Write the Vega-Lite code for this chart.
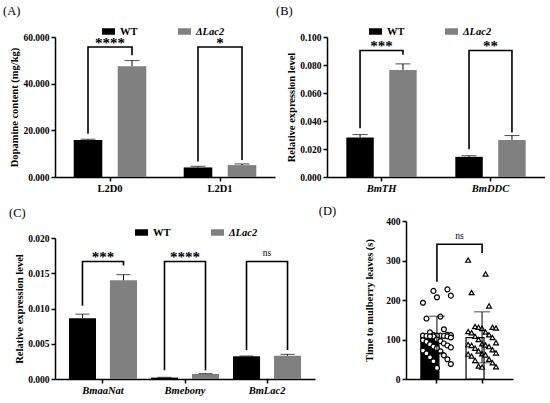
{
  "$schema": "https://vega.github.io/schema/vega-lite/v6.json",
  "background": "white",
  "padding": {"left": 3, "top": 4, "right": 0, "bottom": 0},
  "datasets": {
    "bars": [
      {"panel": "A", "group": "L2D0", "geno": "WT", "mean": 15.9, "upper": 16.2},
      {"panel": "A", "group": "L2D0", "geno": "ΔLac2", "mean": 47.5, "upper": 49.9},
      {"panel": "A", "group": "L2D1", "geno": "WT", "mean": 4.1, "upper": 4.6},
      {"panel": "A", "group": "L2D1", "geno": "ΔLac2", "mean": 5.1, "upper": 5.6},
      {"panel": "B", "group": "BmTH", "geno": "WT", "mean": 0.0282, "upper": 0.0303},
      {"panel": "B", "group": "BmTH", "geno": "ΔLac2", "mean": 0.0765, "upper": 0.0808},
      {"panel": "B", "group": "BmDDC", "geno": "WT", "mean": 0.0144, "upper": 0.0152},
      {"panel": "B", "group": "BmDDC", "geno": "ΔLac2", "mean": 0.0265, "upper": 0.0296},
      {"panel": "C", "group": "BmaaNat", "geno": "WT", "mean": 0.00862, "upper": 0.0092},
      {"panel": "C", "group": "BmaaNat", "geno": "ΔLac2", "mean": 0.014, "upper": 0.0148},
      {"panel": "C", "group": "Bmebony", "geno": "WT", "mean": 0.0002, "upper": 0.00024},
      {"panel": "C", "group": "Bmebony", "geno": "ΔLac2", "mean": 0.0007, "upper": 0.00076},
      {"panel": "C", "group": "BmLac2", "geno": "WT", "mean": 0.00322, "upper": 0.00326},
      {"panel": "C", "group": "BmLac2", "geno": "ΔLac2", "mean": 0.0033, "upper": 0.0035}
    ],
    "dsum": [
      {"geno": "WT", "mean": 113, "lo": 67, "hi": 159},
      {"geno": "ΔLac2", "mean": 105, "lo": 41, "hi": 170}
    ],
    "brackets": [
      {"panel": "A", "group": "L2D0", "geno": "WT", "y": 18.5, "ord": 1},
      {"panel": "A", "group": "L2D0", "geno": "WT", "y": 55.7, "ord": 2},
      {"panel": "A", "group": "L2D0", "geno": "ΔLac2", "y": 55.7, "ord": 3},
      {"panel": "A", "group": "L2D0", "geno": "ΔLac2", "y": 52.2, "ord": 4},
      {"panel": "A", "group": "L2D1", "geno": "WT", "y": 6.6, "ord": 1},
      {"panel": "A", "group": "L2D1", "geno": "WT", "y": 55.7, "ord": 2},
      {"panel": "A", "group": "L2D1", "geno": "ΔLac2", "y": 55.7, "ord": 3},
      {"panel": "A", "group": "L2D1", "geno": "ΔLac2", "y": 7.3, "ord": 4},
      {"panel": "B", "group": "BmTH", "geno": "WT", "y": 0.0349, "ord": 1},
      {"panel": "B", "group": "BmTH", "geno": "WT", "y": 0.0904, "ord": 2},
      {"panel": "B", "group": "BmTH", "geno": "ΔLac2", "y": 0.0904, "ord": 3},
      {"panel": "B", "group": "BmTH", "geno": "ΔLac2", "y": 0.0873, "ord": 4},
      {"panel": "B", "group": "BmDDC", "geno": "WT", "y": 0.0199, "ord": 1},
      {"panel": "B", "group": "BmDDC", "geno": "WT", "y": 0.0904, "ord": 2},
      {"panel": "B", "group": "BmDDC", "geno": "ΔLac2", "y": 0.0904, "ord": 3},
      {"panel": "B", "group": "BmDDC", "geno": "ΔLac2", "y": 0.0318, "ord": 4},
      {"panel": "C", "group": "BmaaNat", "geno": "WT", "y": 0.0104, "ord": 1},
      {"panel": "C", "group": "BmaaNat", "geno": "WT", "y": 0.01667, "ord": 2},
      {"panel": "C", "group": "BmaaNat", "geno": "ΔLac2", "y": 0.01667, "ord": 3},
      {"panel": "C", "group": "BmaaNat", "geno": "ΔLac2", "y": 0.0161, "ord": 4},
      {"panel": "C", "group": "Bmebony", "geno": "WT", "y": 0.00125, "ord": 1},
      {"panel": "C", "group": "Bmebony", "geno": "WT", "y": 0.01667, "ord": 2},
      {"panel": "C", "group": "Bmebony", "geno": "ΔLac2", "y": 0.01667, "ord": 3},
      {"panel": "C", "group": "Bmebony", "geno": "ΔLac2", "y": 0.00125, "ord": 4},
      {"panel": "C", "group": "BmLac2", "geno": "WT", "y": 0.0041, "ord": 1},
      {"panel": "C", "group": "BmLac2", "geno": "WT", "y": 0.01667, "ord": 2},
      {"panel": "C", "group": "BmLac2", "geno": "ΔLac2", "y": 0.01667, "ord": 3},
      {"panel": "C", "group": "BmLac2", "geno": "ΔLac2", "y": 0.0041, "ord": 4},
      {"panel": "D", "group": "D", "geno": "WT", "y": 246, "ord": 1},
      {"panel": "D", "group": "D", "geno": "WT", "y": 341, "ord": 2},
      {"panel": "D", "group": "D", "geno": "ΔLac2", "y": 341, "ord": 3},
      {"panel": "D", "group": "D", "geno": "ΔLac2", "y": 319, "ord": 4}
    ],
    "sig": [
      {"panel": "A", "group": "L2D0", "y": 55.7, "label": "****"},
      {"panel": "A", "group": "L2D1", "y": 55.7, "label": "*"},
      {"panel": "B", "group": "BmTH", "y": 0.0904, "label": "***"},
      {"panel": "B", "group": "BmDDC", "y": 0.0904, "label": "**"},
      {"panel": "C", "group": "BmaaNat", "y": 0.01667, "label": "***"},
      {"panel": "C", "group": "Bmebony", "y": 0.01667, "label": "****"},
      {"panel": "C", "group": "BmLac2", "y": 0.01667, "label": "ns"},
      {"panel": "D", "geno": "WT", "y": 341, "label": "ns"}
    ],
    "pts": [
      {"geno": "WT", "value": 227}, {"geno": "WT", "value": 223}, {"geno": "WT", "value": 211},
      {"geno": "WT", "value": 207}, {"geno": "WT", "value": 193}, {"geno": "WT", "value": 158},
      {"geno": "WT", "value": 153}, {"geno": "WT", "value": 126}, {"geno": "WT", "value": 118},
      {"geno": "WT", "value": 112}, {"geno": "WT", "value": 111}, {"geno": "WT", "value": 111},
      {"geno": "WT", "value": 110}, {"geno": "WT", "value": 110}, {"geno": "WT", "value": 110},
      {"geno": "WT", "value": 109}, {"geno": "WT", "value": 109}, {"geno": "WT", "value": 108},
      {"geno": "WT", "value": 108}, {"geno": "WT", "value": 108}, {"geno": "WT", "value": 105},
      {"geno": "WT", "value": 100}, {"geno": "WT", "value": 98}, {"geno": "WT", "value": 96},
      {"geno": "WT", "value": 94}, {"geno": "WT", "value": 90}, {"geno": "WT", "value": 88},
      {"geno": "WT", "value": 85}, {"geno": "WT", "value": 82}, {"geno": "WT", "value": 80},
      {"geno": "WT", "value": 78}, {"geno": "WT", "value": 72}, {"geno": "WT", "value": 70},
      {"geno": "WT", "value": 65}, {"geno": "WT", "value": 60}, {"geno": "WT", "value": 55},
      {"geno": "WT", "value": 50}, {"geno": "WT", "value": 45}, {"geno": "WT", "value": 38},
      {"geno": "WT", "value": 28},
      {"geno": "ΔLac2", "value": 301}, {"geno": "ΔLac2", "value": 266}, {"geno": "ΔLac2", "value": 219},
      {"geno": "ΔLac2", "value": 185}, {"geno": "ΔLac2", "value": 133}, {"geno": "ΔLac2", "value": 131},
      {"geno": "ΔLac2", "value": 131}, {"geno": "ΔLac2", "value": 129}, {"geno": "ΔLac2", "value": 128},
      {"geno": "ΔLac2", "value": 120}, {"geno": "ΔLac2", "value": 119}, {"geno": "ΔLac2", "value": 117},
      {"geno": "ΔLac2", "value": 112}, {"geno": "ΔLac2", "value": 108}, {"geno": "ΔLac2", "value": 105},
      {"geno": "ΔLac2", "value": 100}, {"geno": "ΔLac2", "value": 92}, {"geno": "ΔLac2", "value": 89},
      {"geno": "ΔLac2", "value": 87}, {"geno": "ΔLac2", "value": 86}, {"geno": "ΔLac2", "value": 85},
      {"geno": "ΔLac2", "value": 82}, {"geno": "ΔLac2", "value": 78}, {"geno": "ΔLac2", "value": 74},
      {"geno": "ΔLac2", "value": 71}, {"geno": "ΔLac2", "value": 66}, {"geno": "ΔLac2", "value": 64},
      {"geno": "ΔLac2", "value": 63}, {"geno": "ΔLac2", "value": 61}, {"geno": "ΔLac2", "value": 58},
      {"geno": "ΔLac2", "value": 50}, {"geno": "ΔLac2", "value": 47}, {"geno": "ΔLac2", "value": 41},
      {"geno": "ΔLac2", "value": 33}, {"geno": "ΔLac2", "value": 31}, {"geno": "ΔLac2", "value": 30}
    ]
  },
  "spacing": 10,
  "resolve": {
    "scale": {"color": "independent", "shape": "independent", "fill": "independent", "xOffset": "independent"},
    "legend": {"color": "independent", "shape": "independent", "fill": "independent"}
  },
  "vconcat": [
    {
      "spacing": 1,
      "resolve": {
        "scale": {"color": "independent", "shape": "independent", "fill": "independent", "xOffset": "independent"},
        "legend": {"color": "independent", "shape": "independent", "fill": "independent"}
      },
      "hconcat": [
        {
          "title": {"text": "(A)", "dx": -52, "offset": 8},
          "width": 220,
          "height": 140,
          "layer": [
            {
              "data": {"name": "bars"},
              "transform": [{"filter": "datum.panel === 'A'"}],
              "mark": {"type": "bar"},
              "encoding": {
                "x": {"field": "group", "type": "nominal", "scale": {"domain": ["L2D0", "L2D1"], "paddingInner": 0, "paddingOuter": 0}, "axis": {"title": null, "labelAngle": 0}},
                "xOffset": {"field": "geno", "type": "nominal", "scale": {"domain": ["WT", "ΔLac2"], "paddingInner": 0.35, "paddingOuter": 0.425}},
                "y": {"field": "mean", "type": "quantitative", "scale": {"domain": [0, 60], "nice": false}, "axis": {"values": [0, 20, 40, 60], "format": ".3f", "title": "Dopamine content (mg/kg)"}},
                "color": {
                  "field": "geno", "type": "nominal",
                  "scale": {"domain": ["WT", "ΔLac2"], "range": ["#000000", "#808080"]},
                  "legend": {"orient": "none", "legendX": 47, "legendY": -12}
                }
              }
            },
            {
              "data": {"name": "bars"},
              "transform": [{"filter": "datum.panel === 'A'"}],
              "mark": {"type": "rule", "color": "black", "strokeWidth": 1},
              "encoding": {
                "x": {"field": "group", "type": "nominal"},
                "xOffset": {"field": "geno", "type": "nominal"},
                "y": {"field": "mean", "type": "quantitative", "axis": {"values": [0, 20, 40, 60], "format": ".3f", "title": "Dopamine content (mg/kg)"}},
                "y2": {"field": "upper"}
              }
            },
            {
              "data": {"name": "bars"},
              "transform": [{"filter": "datum.panel === 'A'"}],
              "mark": {"type": "tick", "color": "black", "thickness": 1, "size": 15},
              "encoding": {
                "x": {"field": "group", "type": "nominal"},
                "xOffset": {"field": "geno", "type": "nominal"},
                "y": {"field": "upper", "type": "quantitative", "axis": {"values": [0, 20, 40, 60], "format": ".3f", "title": "Dopamine content (mg/kg)"}}
              }
            },
            {
              "data": {"name": "brackets"},
              "transform": [{"filter": "datum.panel === 'A'"}],
              "mark": {"type": "line", "color": "black", "strokeWidth": 1.6},
              "encoding": {
                "x": {"field": "group", "type": "nominal"},
                "xOffset": {"field": "geno", "type": "nominal"},
                "y": {"field": "y", "type": "quantitative", "axis": {"values": [0, 20, 40, 60], "format": ".3f", "title": "Dopamine content (mg/kg)"}},
                "order": {"field": "ord"},
                "detail": {"field": "group"}
              }
            },
            {
              "data": {"name": "sig"},
              "transform": [{"filter": "datum.panel === 'A'"}],
              "mark": {"type": "text", "fontSize": 15, "fontWeight": "bold", "baseline": "alphabetic", "dy": 1},
              "encoding": {
                "x": {"field": "group", "type": "nominal"},
                "y": {"field": "y", "type": "quantitative", "axis": {"values": [0, 20, 40, 60], "format": ".3f", "title": "Dopamine content (mg/kg)"}},
                "text": {"field": "label"}
              }
            }
          ]
        },
        {
          "title": {"text": "(B)", "dx": -51, "offset": 8},
          "width": 218,
          "height": 140,
          "layer": [
            {
              "data": {"name": "bars"},
              "transform": [{"filter": "datum.panel === 'B'"}],
              "mark": {"type": "bar"},
              "encoding": {
                "x": {"field": "group", "type": "nominal", "scale": {"domain": ["BmTH", "BmDDC"], "paddingInner": 0, "paddingOuter": 0}, "axis": {"title": null, "labelAngle": 0, "labelFontStyle": "italic"}},
                "xOffset": {"field": "geno", "type": "nominal", "scale": {"domain": ["WT", "ΔLac2"], "paddingInner": 0.36, "paddingOuter": 0.45}},
                "y": {"field": "mean", "type": "quantitative", "scale": {"domain": [0, 0.1], "nice": false}, "axis": {"values": [0, 0.02, 0.04, 0.06, 0.08, 0.1], "format": ".3f", "title": "Relative expression level"}},
                "color": {
                  "field": "geno", "type": "nominal",
                  "scale": {"domain": ["WT", "ΔLac2"], "range": ["#000000", "#808080"]},
                  "legend": {"orient": "none", "legendX": 42, "legendY": -12}
                }
              }
            },
            {
              "data": {"name": "bars"},
              "transform": [{"filter": "datum.panel === 'B'"}],
              "mark": {"type": "rule", "color": "black", "strokeWidth": 1},
              "encoding": {
                "x": {"field": "group", "type": "nominal"},
                "xOffset": {"field": "geno", "type": "nominal"},
                "y": {"field": "mean", "type": "quantitative", "axis": {"values": [0, 0.02, 0.04, 0.06, 0.08, 0.1], "format": ".3f", "title": "Relative expression level"}},
                "y2": {"field": "upper"}
              }
            },
            {
              "data": {"name": "bars"},
              "transform": [{"filter": "datum.panel === 'B'"}],
              "mark": {"type": "tick", "color": "black", "thickness": 1, "size": 15},
              "encoding": {
                "x": {"field": "group", "type": "nominal"},
                "xOffset": {"field": "geno", "type": "nominal"},
                "y": {"field": "upper", "type": "quantitative", "axis": {"values": [0, 0.02, 0.04, 0.06, 0.08, 0.1], "format": ".3f", "title": "Relative expression level"}}
              }
            },
            {
              "data": {"name": "brackets"},
              "transform": [{"filter": "datum.panel === 'B'"}],
              "mark": {"type": "line", "color": "black", "strokeWidth": 1.6},
              "encoding": {
                "x": {"field": "group", "type": "nominal"},
                "xOffset": {"field": "geno", "type": "nominal"},
                "y": {"field": "y", "type": "quantitative", "axis": {"values": [0, 0.02, 0.04, 0.06, 0.08, 0.1], "format": ".3f", "title": "Relative expression level"}},
                "order": {"field": "ord"},
                "detail": {"field": "group"}
              }
            },
            {
              "data": {"name": "sig"},
              "transform": [{"filter": "datum.panel === 'B'"}],
              "mark": {"type": "text", "fontSize": 15, "fontWeight": "bold", "baseline": "alphabetic", "dy": 1},
              "encoding": {
                "x": {"field": "group", "type": "nominal"},
                "y": {"field": "y", "type": "quantitative", "axis": {"values": [0, 0.02, 0.04, 0.06, 0.08, 0.1], "format": ".3f", "title": "Relative expression level"}},
                "text": {"field": "label"}
              }
            }
          ]
        }
      ]
    },
    {
      "spacing": 3,
      "resolve": {
        "scale": {"color": "independent", "shape": "independent", "fill": "independent", "xOffset": "independent"},
        "legend": {"color": "independent", "shape": "independent", "fill": "independent"}
      },
      "hconcat": [
        {
          "title": {"text": "(C)", "dx": -46, "offset": 2},
          "width": 260,
          "height": 158,
          "layer": [
            {
              "data": {"name": "bars"},
              "transform": [{"filter": "datum.panel === 'C'"}],
              "mark": {"type": "bar"},
              "encoding": {
                "x": {"field": "group", "type": "nominal", "scale": {"domain": ["BmaaNat", "Bmebony", "BmLac2"], "paddingInner": 0, "paddingOuter": 0.085}, "axis": {"title": null, "labelAngle": 0, "labelFontStyle": "italic"}},
                "xOffset": {"field": "geno", "type": "nominal", "scale": {"domain": ["WT", "ΔLac2"], "paddingInner": 0.34, "paddingOuter": 0.17}},
                "y": {"field": "mean", "type": "quantitative", "scale": {"domain": [0, 0.02], "nice": false, "range": [158, 17]}, "axis": {"values": [0, 0.005, 0.01, 0.015, 0.02], "format": ".3f", "title": "Relative expression level"}},
                "color": {
                  "field": "geno", "type": "nominal",
                  "scale": {"domain": ["WT", "ΔLac2"], "range": ["#000000", "#808080"]},
                  "legend": {"orient": "none", "legendX": 80, "legendY": 5}
                }
              }
            },
            {
              "data": {"name": "bars"},
              "transform": [{"filter": "datum.panel === 'C'"}],
              "mark": {"type": "rule", "color": "black", "strokeWidth": 1},
              "encoding": {
                "x": {"field": "group", "type": "nominal"},
                "xOffset": {"field": "geno", "type": "nominal"},
                "y": {"field": "mean", "type": "quantitative", "axis": {"values": [0, 0.005, 0.01, 0.015, 0.02], "format": ".3f", "title": "Relative expression level"}},
                "y2": {"field": "upper"}
              }
            },
            {
              "data": {"name": "bars"},
              "transform": [{"filter": "datum.panel === 'C'"}],
              "mark": {"type": "tick", "color": "black", "thickness": 1, "size": 14},
              "encoding": {
                "x": {"field": "group", "type": "nominal"},
                "xOffset": {"field": "geno", "type": "nominal"},
                "y": {"field": "upper", "type": "quantitative", "axis": {"values": [0, 0.005, 0.01, 0.015, 0.02], "format": ".3f", "title": "Relative expression level"}}
              }
            },
            {
              "data": {"name": "brackets"},
              "transform": [{"filter": "datum.panel === 'C'"}],
              "mark": {"type": "line", "color": "black", "strokeWidth": 1.6},
              "encoding": {
                "x": {"field": "group", "type": "nominal"},
                "xOffset": {"field": "geno", "type": "nominal"},
                "y": {"field": "y", "type": "quantitative", "axis": {"values": [0, 0.005, 0.01, 0.015, 0.02], "format": ".3f", "title": "Relative expression level"}},
                "order": {"field": "ord"},
                "detail": {"field": "group"}
              }
            },
            {
              "data": {"name": "sig"},
              "transform": [{"filter": "datum.panel === 'C' && datum.label !== 'ns'"}],
              "mark": {"type": "text", "fontSize": 15, "fontWeight": "bold", "baseline": "alphabetic", "dy": 1},
              "encoding": {
                "x": {"field": "group", "type": "nominal"},
                "y": {"field": "y", "type": "quantitative", "axis": {"values": [0, 0.005, 0.01, 0.015, 0.02], "format": ".3f", "title": "Relative expression level"}},
                "text": {"field": "label"}
              }
            },
            {
              "data": {"name": "sig"},
              "transform": [{"filter": "datum.panel === 'C' && datum.label === 'ns'"}],
              "mark": {"type": "text", "fontSize": 9.5, "baseline": "alphabetic", "dy": -5},
              "encoding": {
                "x": {"field": "group", "type": "nominal"},
                "y": {"field": "y", "type": "quantitative", "axis": {"values": [0, 0.005, 0.01, 0.015, 0.02], "format": ".3f", "title": "Relative expression level"}},
                "text": {"field": "label"}
              }
            }
          ]
        },
        {
          "title": {"text": "(D)", "dx": -46, "dy": 5, "frame": "bounds"},
          "width": 107,
          "height": 158,
          "layer": [
            {
              "data": {"name": "dsum"},
              "mark": {"type": "bar", "stroke": "black", "strokeWidth": 1.2},
              "encoding": {
                "x": {"field": "geno", "type": "nominal", "scale": {"domain": ["WT", "ΔLac2"], "paddingInner": 0.29, "paddingOuter": 0.33}, "axis": {"title": null, "labels": false}},
                "y": {"field": "mean", "type": "quantitative", "scale": {"domain": [0, 400], "nice": false}, "axis": {"values": [0, 100, 200, 300, 400], "format": "d", "title": "Time to mulberry leaves (s)", "titlePadding": 11}},
                "fill": {"field": "geno", "type": "nominal", "scale": {"domain": ["WT", "ΔLac2"], "range": ["#000000", "#ffffff"]}, "legend": null}
              }
            },
            {
              "data": {"name": "pts"},
              "transform": [
                {"window": [{"op": "row_number", "as": "idx"}], "groupby": ["geno"], "sort": [{"field": "value"}]},
                {"calculate": "(datum.idx * 4) % 9", "as": "slot"}
              ],
              "mark": {"type": "point", "filled": true, "fill": "white", "stroke": "black", "strokeWidth": 1.2, "size": 24, "opacity": 1},
              "encoding": {
                "x": {"field": "geno", "type": "nominal"},
                "xOffset": {"field": "slot", "type": "ordinal", "scale": {"domain": [0, 1, 2, 3, 4, 5, 6, 7, 8], "paddingInner": 0, "paddingOuter": 0.6}},
                "y": {"field": "value", "type": "quantitative", "axis": {"values": [0, 100, 200, 300, 400], "format": "d", "title": "Time to mulberry leaves (s)", "titlePadding": 11}},
                "shape": {
                  "field": "geno", "type": "nominal",
                  "scale": {"domain": ["WT", "ΔLac2"], "range": ["circle", "triangle-up"]},
                  "legend": {"orient": "none", "legendX": 7, "legendY": -12, "columnPadding": 10, "labelOffset": 9, "symbolSize": 30, "symbolType": "circle", "symbolFillColor": "white", "symbolStrokeColor": "black", "symbolStrokeWidth": 1.3}
                }
              }
            },
            {
              "data": {"name": "dsum"},
              "mark": {"type": "rule", "color": "black", "strokeWidth": 1},
              "encoding": {
                "x": {"field": "geno", "type": "nominal"},
                "y": {"field": "lo", "type": "quantitative", "axis": {"values": [0, 100, 200, 300, 400], "format": "d", "title": "Time to mulberry leaves (s)", "titlePadding": 11}},
                "y2": {"field": "hi"}
              }
            },
            {
              "data": {"name": "dsum"},
              "mark": {"type": "tick", "color": "black", "thickness": 1, "size": 16},
              "encoding": {
                "x": {"field": "geno", "type": "nominal"},
                "y": {"field": "hi", "type": "quantitative", "axis": {"values": [0, 100, 200, 300, 400], "format": "d", "title": "Time to mulberry leaves (s)", "titlePadding": 11}}
              }
            },
            {
              "data": {"name": "dsum"},
              "mark": {"type": "tick", "color": "black", "thickness": 1, "size": 16},
              "encoding": {
                "x": {"field": "geno", "type": "nominal"},
                "y": {"field": "lo", "type": "quantitative", "axis": {"values": [0, 100, 200, 300, 400], "format": "d", "title": "Time to mulberry leaves (s)", "titlePadding": 11}}
              }
            },
            {
              "data": {"name": "brackets"},
              "transform": [{"filter": "datum.panel === 'D'"}],
              "mark": {"type": "line", "color": "black", "strokeWidth": 1.6},
              "encoding": {
                "x": {"field": "geno", "type": "nominal"},
                "y": {"field": "y", "type": "quantitative", "axis": {"values": [0, 100, 200, 300, 400], "format": "d", "title": "Time to mulberry leaves (s)", "titlePadding": 11}},
                "order": {"field": "ord"}
              }
            },
            {
              "data": {"name": "sig"},
              "transform": [{"filter": "datum.panel === 'D'"}],
              "mark": {"type": "text", "fontSize": 9.5, "baseline": "alphabetic", "dy": -5},
              "encoding": {
                "x": {"field": "geno", "type": "nominal", "bandPosition": 1.2},
                "y": {"field": "y", "type": "quantitative", "axis": {"values": [0, 100, 200, 300, 400], "format": "d", "title": "Time to mulberry leaves (s)", "titlePadding": 11}},
                "text": {"field": "label"}
              }
            }
          ]
        }
      ]
    }
  ],
  "config": {
    "view": {"stroke": null},
    "font": "Liberation Serif",
    "text": {"font": "Liberation Serif", "color": "black"},
    "axis": {
      "labelFont": "Liberation Serif",
      "labelFontWeight": "bold",
      "labelFontSize": 10.5,
      "labelColor": "black",
      "labelPadding": 2,
      "labelOverlap": false,
      "titleFont": "Liberation Serif",
      "titleFontWeight": "bold",
      "titleFontSize": 10.5,
      "titleColor": "black",
      "titlePadding": 3,
      "domainColor": "black",
      "domainWidth": 1.5,
      "tickColor": "black",
      "tickWidth": 1.5,
      "tickSize": 4,
      "grid": false
    },
    "axisY": {"labelFontSize": 9.5},
    "title": {"font": "Liberation Serif", "fontSize": 12.5, "fontWeight": "normal", "anchor": "start", "frame": "group", "color": "black"},
    "legend": {
      "direction": "horizontal",
      "title": null,
      "symbolType": "M-1,-0.5H1V0.5H-1Z",
      "symbolSize": 169,
      "symbolStrokeWidth": 0,
      "labelFont": "Liberation Serif",
      "labelFontSize": 10.5,
      "labelFontWeight": "bold",
      "labelColor": "black",
      "labelOffset": 5,
      "columnPadding": 40,
      "padding": 0,
      "labelFontStyle": {"expr": "datum.label === 'WT' ? 'normal' : 'italic'"}
    }
  }
}
